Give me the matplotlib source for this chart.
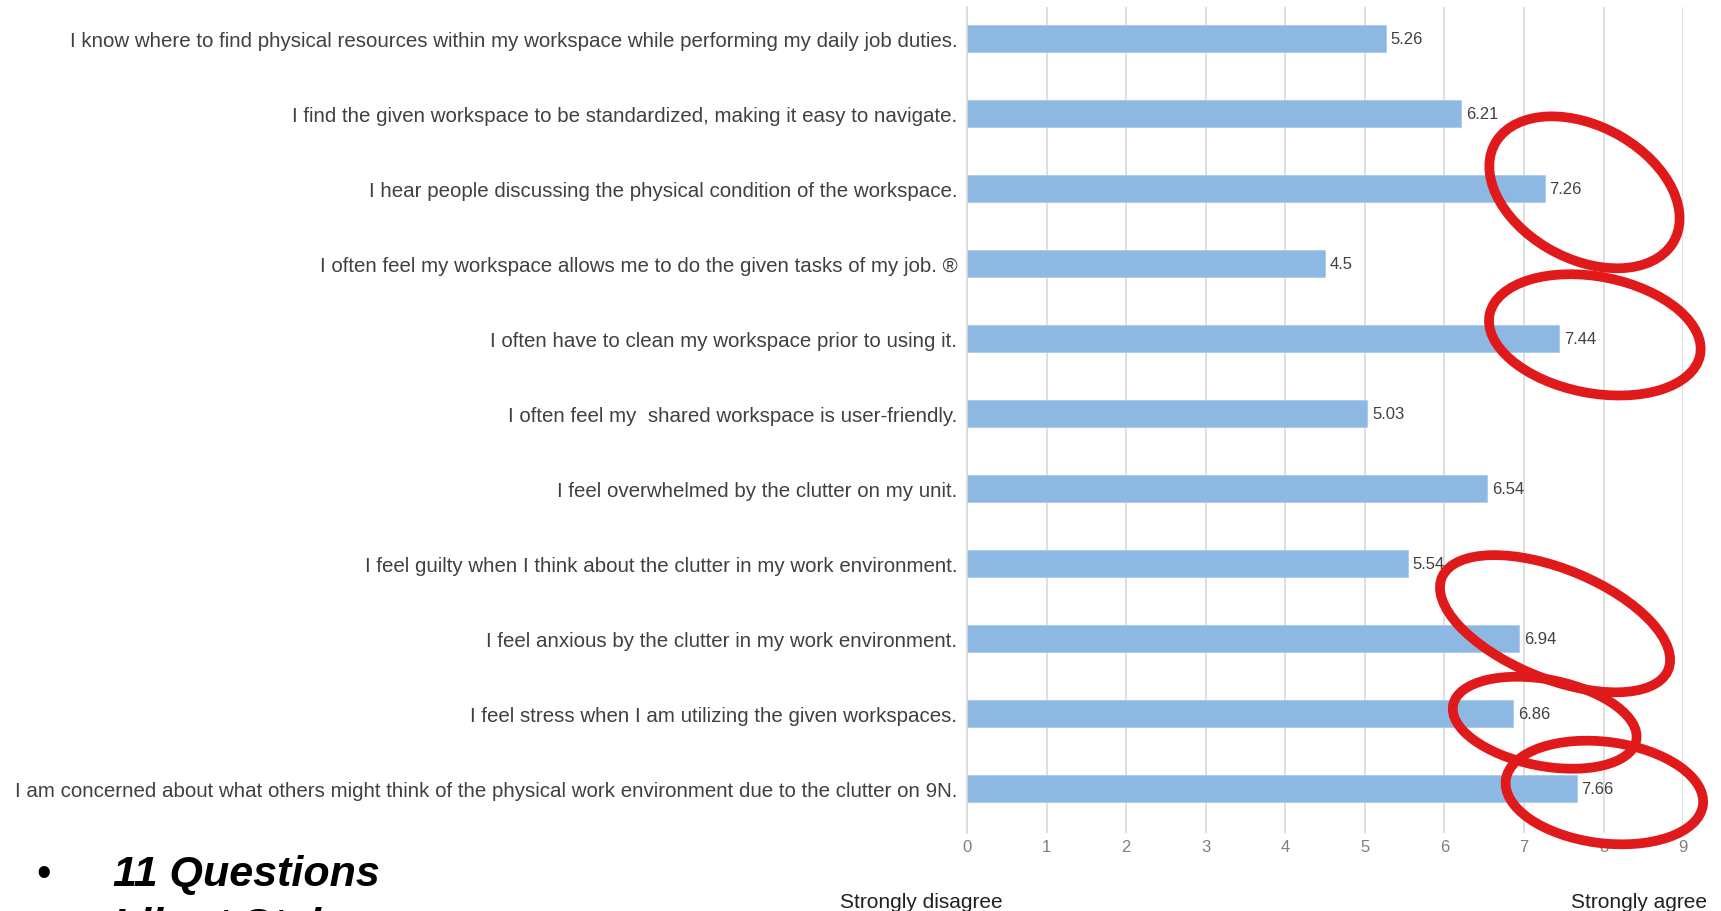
import matplotlib.pyplot as plt
from matplotlib.patches import Ellipse

questions = [
    "I know where to find physical resources within my workspace while performing my daily job duties.",
    "I find the given workspace to be standardized, making it easy to navigate.",
    "I hear people discussing the physical condition of the workspace.",
    "I often feel my workspace allows me to do the given tasks of my job. \u00ae",
    "I often have to clean my workspace prior to using it.",
    "I often feel my  shared workspace is user-friendly.",
    "I feel overwhelmed by the clutter on my unit.",
    "I feel guilty when I think about the clutter in my work environment.",
    "I feel anxious by the clutter in my work environment.",
    "I feel stress when I am utilizing the given workspaces.",
    "I am concerned about what others might think of the physical work environment due to the clutter on 9N.",
]
scores = [5.26, 6.21, 7.26, 4.5, 7.44, 5.03, 6.54, 5.54, 6.94, 6.86, 7.66]
ticks = list(range(10))
# questions circled in red on the slide
circled = [2, 4, 8, 9, 10]

plt.rcParams['font.family'] = ['Liberation Sans', 'DejaVu Sans']

fig = plt.figure(figsize=(17.21, 9.12), dpi=100)
ax = fig.add_axes([0.5619, 0.0855, 0.4161, 0.9057])

y = list(range(len(questions)))
ax.barh(y, scores, height=0.36, color='#8DB8E2', edgecolor='#A9CBEB', linewidth=0.6, zorder=2)
for yi, v in zip(y, scores):
    ax.text(v + 0.06, yi, f"{v:g}", va='center', ha='left', fontsize=12, color='#404040', zorder=3)

ax.set_xlim(0, 9)
ax.set_ylim(10.59, -0.42)
ax.set_xticks(ticks)
ax.set_xticklabels([str(t) for t in ticks], fontsize=12, color='#7F7F7F')
ax.set_yticks(y)
ax.set_yticklabels(questions, fontsize=14.8, color='#404040')
ax.tick_params(axis='both', length=0, pad=7)
ax.tick_params(axis='x', pad=4)
ax.xaxis.grid(True, color='#D9D9D9', linewidth=1.2, zorder=0)
ax.set_axisbelow(True)
for s in ['top', 'right', 'bottom']:
    ax.spines[s].set_visible(False)
ax.spines['left'].set_color('#D9D9D9')
ax.spines['left'].set_linewidth(1.2)

# hand-drawn red circles around the high scores
circle_shapes = {2: (0.5, 2.6, 1.75, 32, 0.05), 4: (0.45, 2.7, 1.55, 12, -0.05),
                 8: (0.45, 3.1, 1.45, 24, -0.2), 9: (0.4, 2.35, 1.15, 12, 0.12),
                 10: (0.35, 2.5, 1.35, 8, 0.05)}
for i in circled:
    dx, w, h, ang, dy = circle_shapes[i]
    ax.add_patch(Ellipse((scores[i] + dx, i + dy), w, h, angle=ang, fill=False,
                         edgecolor='#E0191B', linewidth=7, clip_on=False, zorder=5))

fig.text(0.4882, 0.004, "Strongly disagree", fontsize=15, color='#202020', ha='left', va='baseline')
fig.text(0.992, 0.004, "Strongly agree", fontsize=15, color='#202020', ha='right', va='baseline')

fig.text(0.021, 0.0285, "\u2022", fontsize=30, color='black', va='baseline')
fig.text(0.0657, 0.0285, "11 Questions", fontsize=31, color='black',
         fontweight='bold', fontstyle='italic', va='baseline')
fig.text(0.021, -0.0285, "\u2022", fontsize=30, color='black', va='baseline')
fig.text(0.0657, -0.0285, "Likert Style", fontsize=31, color='black',
         fontweight='bold', fontstyle='italic', va='baseline')

fig.savefig('out.png', dpi=100)
